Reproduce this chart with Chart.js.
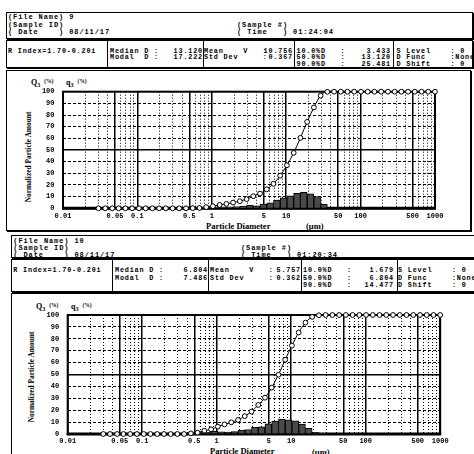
<!DOCTYPE html>
<html>
<head>
<meta charset="utf-8">
<script src="https://cdn.jsdelivr.net/npm/chart.js@4"></script>
<style>
  html, body { margin: 0; padding: 0; background: #fff; width: 474px; height: 454px; overflow: hidden; position: relative; }
  .t { position: absolute; font: bold 6.8px "Liberation Mono", monospace; letter-spacing: 0.82px; line-height: 10px; white-space: pre; color: #000; }
  .h { font-size: 7px; letter-spacing: 0.9px; }
  .r { transform: translateX(-100%); }
  .box { position: absolute; border: 1px solid #000; box-sizing: border-box; box-shadow: 1px 1px 0 #000; }
  .vl { position: absolute; width: 1px; background: #000; }
  .ttl { position: absolute; font: bold 8.5px "Liberation Serif", serif; white-space: pre; color: #000; line-height: 10px; }
  .yt { position: absolute; font: bold 7.4px "Liberation Serif", serif; white-space: pre; line-height: 10px; transform: translate(-50%, -50%) rotate(-90deg); }
  .q { position: absolute; font: bold 8px "Liberation Serif", serif; white-space: pre; line-height: 10px; }
  .q sub { font-size: 6px; vertical-align: -2px; }
  .q small { font-size: 5.5px; vertical-align: 2px; }
  canvas { position: absolute; }
</style>
</head>
<body>

<!-- report: file 9 -->
<div class="box" style="left:6px;top:12px;width:467px;height:27px"></div>
<div class="box" style="left:6px;top:40px;width:467px;height:28px"></div>
<div class="vl" style="left:107px;top:40px;height:28px"></div>
<div class="vl" style="left:203px;top:40px;height:28px"></div>
<div class="vl" style="left:294px;top:40px;height:28px"></div>
<div class="vl" style="left:393px;top:40px;height:28px"></div>
<div class="box" style="left:6px;top:70px;width:465px;height:161px"></div>

<span class="t h" style="left:8px;top:11.7px">(File Name) 9</span>
<span class="t h" style="left:8px;top:19.7px">(Sample ID)</span>
<span class="t h" style="left:8px;top:27.3px">( Date    ) 08/11/17</span>
<span class="t h" style="left:237px;top:19.7px">(Sample #)</span>
<span class="t h" style="left:237px;top:27.3px">( Time   ) 01:24:04</span>

<span class="t" style="left:8px;top:45.7px">R Index=1.70-0.20i</span>
<span class="t" style="left:110px;top:45.7px">Median D :</span>
<span class="t r" style="left:203px;top:45.7px">13.120</span>
<span class="t" style="left:110px;top:52.3px">Modal  D :</span>
<span class="t r" style="left:203px;top:52.3px">17.222</span>
<span class="t" style="left:204px;top:45.7px">Mean    V   :</span>
<span class="t r" style="left:293px;top:45.7px">10.756</span>
<span class="t" style="left:204px;top:52.3px">Std Dev     :</span>
<span class="t r" style="left:293px;top:52.3px">0.367</span>
<span class="t" style="left:296.5px;top:45.7px">10.0%D   :</span>
<span class="t r" style="left:391px;top:45.7px">3.433</span>
<span class="t" style="left:296.5px;top:52.3px">50.0%D   :</span>
<span class="t r" style="left:391px;top:52.3px">13.120</span>
<span class="t" style="left:296.5px;top:59px">90.0%D   :</span>
<span class="t r" style="left:391px;top:59px">25.481</span>
<span class="t" style="left:396.5px;top:45.7px">S Level    : 0</span>
<span class="t" style="left:396.5px;top:52.3px">D Func     :None</span>
<span class="t" style="left:396.5px;top:59px">D Shift    : 0</span>

<span class="q" style="left:31px;top:76px">Q<sub>3</sub>  <small>(%)</small></span>
<span class="q" style="left:66px;top:76px">q<sub>3</sub>  <small>(%)</small></span>
<span class="yt" style="left:28.5px;top:157px">Normalized Particle Amount</span>
<span class="ttl" style="left:206px;top:220.5px">Particle Diameter</span>
<span class="ttl" style="left:306px;top:221px">(μm)</span>
<canvas id="c9" width="464" height="158" style="left:7px;top:71px;width:464px;height:158px"></canvas>

<!-- report: file 10 -->
<div class="box" style="left:11px;top:235px;width:470px;height:23px"></div>
<div class="box" style="left:11px;top:259px;width:470px;height:33px"></div>
<div class="vl" style="left:112px;top:259px;height:33px"></div>
<div class="vl" style="left:208px;top:259px;height:33px"></div>
<div class="vl" style="left:301px;top:259px;height:33px"></div>
<div class="vl" style="left:397px;top:259px;height:33px"></div>
<div class="box" style="left:11px;top:293px;width:470px;height:170px"></div>

<span class="t h" style="left:13.3px;top:235.7px">(File Name) 10</span>
<span class="t h" style="left:13.3px;top:243px">(Sample ID)</span>
<span class="t h" style="left:13.3px;top:250px">( Date    ) 08/11/17</span>
<span class="t h" style="left:241px;top:243px">(Sample #)</span>
<span class="t h" style="left:241px;top:250px">( Time   ) 01:20:34</span>

<span class="t" style="left:13.3px;top:265px">R Index=1.70-0.20i</span>
<span class="t" style="left:115px;top:265px">Median D :</span>
<span class="t r" style="left:208px;top:265px">6.804</span>
<span class="t" style="left:115px;top:272.5px">Modal  D :</span>
<span class="t r" style="left:208px;top:272.5px">7.486</span>
<span class="t" style="left:210px;top:265px">Mean    V   :</span>
<span class="t r" style="left:301px;top:265px">5.757</span>
<span class="t" style="left:210px;top:272.5px">Std Dev     :</span>
<span class="t r" style="left:301px;top:272.5px">0.362</span>
<span class="t" style="left:303px;top:265px">10.0%D   :</span>
<span class="t r" style="left:394px;top:265px">1.679</span>
<span class="t" style="left:303px;top:272.5px">50.0%D   :</span>
<span class="t r" style="left:394px;top:272.5px">6.804</span>
<span class="t" style="left:303px;top:280px">90.0%D   :</span>
<span class="t r" style="left:394px;top:280px">14.477</span>
<span class="t" style="left:398px;top:265px">S Level    : 0</span>
<span class="t" style="left:398px;top:272.5px">D Func     :None</span>
<span class="t" style="left:398px;top:280px">D Shift    : 0</span>

<span class="q" style="left:36px;top:300px">Q<sub>3</sub>  <small>(%)</small></span>
<span class="q" style="left:71px;top:300px">q<sub>3</sub>  <small>(%)</small></span>
<span class="yt" style="left:31.5px;top:377px">Normalized Particle Amount</span>
<span class="ttl" style="left:210px;top:446px">Particle Diameter</span>
<span class="ttl" style="left:312px;top:446.5px">(μm)</span>
<canvas id="c10" width="462" height="160" style="left:12px;top:294px;width:462px;height:160px"></canvas>

<script>
// Channel diameters (µm) of the size analyser, 51 channels from 0.03 to 1000
const CHANNELS = [0.030, 0.037, 0.046, 0.056, 0.069, 0.085, 0.105, 0.129, 0.159, 0.196,
                  0.241, 0.297, 0.365, 0.450, 0.554, 0.682, 0.840, 1.035, 1.274, 1.570,
                  1.933, 2.381, 2.932, 3.611, 4.447, 5.477, 6.745, 8.307, 10.23, 12.60,
                  15.52, 19.11, 23.54, 28.99, 35.70, 43.97, 54.15, 66.69, 82.13, 101.1,
                  124.6, 153.4, 188.9, 232.7, 286.6, 352.9, 434.6, 535.3, 659.2, 811.9, 1000];

// File 9: cumulative undersize Q3 (%) at each channel
const CUM_9 = [0, 0, 0, 0, 0, 0, 0, 0, 0, 0,
               0, 0, 0, 0, 0.1, 0.3, 1.0, 1.8, 2.9, 3.8,
               4.9, 6.1, 7.9, 10.4, 12.6, 16.3, 21.0, 28.0, 36.9, 47.5,
               60.4, 74.1, 86.5, 96.6, 99.9, 100, 100, 100, 100, 100,
               100, 100, 100, 100, 100, 100, 100, 100, 100, 100, 100];
// File 9: frequency q3 (%) of the interval ending at each channel
const FREQ_9 = [0, 0, 0, 0, 0, 0, 0, 0, 0, 0,
                0, 0, 0, 0, 0, 0.3, 0.7, 0.8, 1.1, 0.9,
                1.1, 1.2, 1.8, 2.5, 2.2, 3.7, 4.7, 7.0, 8.9, 10.6,
                12.9, 13.7, 12.4, 10.1, 3.3, 0, 0, 0, 0, 0,
                0, 0, 0, 0, 0, 0, 0, 0, 0, 0, 0];

// File 10: cumulative undersize Q3 (%)
const CUM_10 = [0, 0, 0, 0, 0, 0, 0, 0, 0, 0,
                0, 0, 0, 0.5, 1.1, 2.8, 3.9, 6.2, 8.1, 9.8,
                11.8, 15.0, 18.8, 24.4, 30.5, 39.0, 49.8, 62.4, 74.3, 85.3,
                93.6, 98.4, 99.8, 100, 100, 100, 100, 100, 100, 100,
                100, 100, 100, 100, 100, 100, 100, 100, 100, 100, 100];
// File 10: frequency q3 (%)
const FREQ_10 = [0, 0, 0, 0, 0, 0, 0, 0, 0, 0,
                 0, 0, 0, 0.5, 0.6, 1.7, 1.1, 2.3, 1.9, 1.7,
                 2.0, 3.2, 3.8, 5.6, 6.1, 8.5, 10.8, 12.6, 11.9, 11.0,
                 8.3, 4.8, 1.4, 0.2, 0, 0, 0, 0, 0, 0,
                 0, 0, 0, 0, 0, 0, 0, 0, 0, 0, 0];

// Axis ticks
const X_TICKS  = [0.01, 0.05, 0.1, 0.5, 1, 5, 10, 50, 100, 500, 1000];
const X_LABELS = ['0.01', '0.05', '0.1', '0.5', '1', '5', '10', '50', '100', '500', '1000'];
const Y_TICKS  = [0, 10, 20, 30, 40, 50, 60, 70, 80, 90, 100];
const Y_LABELS = ['0', '10', '20', '30', '40', '50', '60', '70', '80', '90', '100'];

// Dotted sub-decade grid (2..9 times each decade)
const MINOR_GRID = [0.01, 0.1, 1, 10, 100].flatMap(d => [2, 3, 4, 6, 7, 8, 9].map(m => d * m));

Chart.defaults.color = '#000';
Chart.defaults.font.family = '"Liberation Mono", monospace';

// Thick plot frame, drawn under the marks
const plotFrame = {
  id: 'plotFrame',
  beforeDatasetsDraw(chart) {
    const { ctx, chartArea: a } = chart;
    ctx.save();
    ctx.strokeStyle = '#000';
    ctx.lineWidth = 2;
    ctx.strokeRect(a.left, a.top, a.right - a.left, a.bottom - a.top);
    ctx.lineWidth = 3;
    ctx.beginPath();
    ctx.moveTo(a.left - 1, a.bottom);
    ctx.lineTo(a.right + 1, a.bottom);
    ctx.stroke();
    ctx.restore();
  }
};

function drawPsd(canvasId, cum, freq, geo) {
  const linePts = CHANNELS.map((d, i) => ({ x: d, y: cum[i] }));
  const barPts = [];
  for (let i = 1; i < CHANNELS.length; i++) {
    if (freq[i] > 0) barPts.push({ x: Math.sqrt(CHANNELS[i - 1] * CHANNELS[i]), y: freq[i] });
  }
  const gridDash = (c) => (c.tick && (c.tick.value === 0 || c.tick.value === 50 || c.tick.value === 100)) ? [] : [3, 2];

  return new Chart(document.getElementById(canvasId), {
    type: 'bar',
    data: {
      datasets: [
        {
          type: 'line',
          label: 'Q3',
          data: linePts,
          borderColor: '#000',
          borderWidth: 1,
          cubicInterpolationMode: 'monotone',
          pointRadius: 2.4,
          pointBackgroundColor: '#fff',
          pointBorderColor: '#000',
          pointBorderWidth: 1,
          clip: false,
          order: 0
        },
        {
          type: 'bar',
          label: 'q3',
          data: barPts,
          backgroundColor: '#4a4a4a',
          borderColor: '#000',
          borderWidth: 1,
          categoryPercentage: 1,
          barPercentage: 1,
          order: 1
        }
      ]
    },
    options: {
      responsive: false,
      animation: false,
      devicePixelRatio: 1,
      layout: { autoPadding: false, padding: geo.padding },
      plugins: { legend: { display: false }, tooltip: { enabled: false } },
      scales: {
        x: {
          type: 'logarithmic',
          position: 'bottom',
          min: 0.01, max: 1000,
          offset: false,
          afterBuildTicks: s => { s.ticks = X_TICKS.map(v => ({ value: v })); },
          afterFit: s => { s.height = 20; s.paddingLeft = 0; s.paddingRight = 0; },
          ticks: {
            autoSkip: false, maxRotation: 0, padding: geo.xPad,
            font: { size: 7, weight: 'bold' },
            callback: (v, i) => X_LABELS[i]
          },
          grid: { offset: false, color: '#000', lineWidth: 1.5, drawTicks: false },
          border: { display: false }
        },
        xg: {
          type: 'logarithmic',
          position: 'bottom',
          min: 0.01, max: 1000,
          offset: false,
          afterBuildTicks: s => { s.ticks = MINOR_GRID.map(v => ({ value: v })); },
          afterFit: s => { s.height = 0; s.paddingLeft = 0; s.paddingRight = 0; },
          ticks: { display: false },
          grid: { offset: false, color: '#000', lineWidth: 1, drawTicks: false },
          border: { display: false, dash: [1, 2] }
        },
        y: {
          type: 'linear',
          min: 0, max: 100,
          afterBuildTicks: s => { s.ticks = Y_TICKS.map(v => ({ value: v })); },
          afterFit: s => { s.width = geo.yWidth; s.paddingTop = 0; s.paddingBottom = 0; },
          ticks: {
            padding: 8.5,
            font: { size: 7, weight: 'bold' },
            callback: (v, i) => Y_LABELS[i]
          },
          grid: {
            color: '#000',
            lineWidth: c => (c.tick && c.tick.value === 50) ? 1.5 : 1,
            drawTicks: false
          },
          border: { display: false, dash: gridDash }
        }
      }
    },
    plugins: [plotFrame]
  });
}

drawPsd('c9', CUM_9, FREQ_9, {
  yWidth: 56, xPad: 3.6,
  padding: { left: 0, top: 20.7, right: 36, bottom: 0.7 }
});
drawPsd('c10', CUM_10, FREQ_10, {
  yWidth: 55.7, xPad: 3,
  padding: { left: 0, top: 21, right: 33.8, bottom: 0 }
});
</script>
</body>
</html>
